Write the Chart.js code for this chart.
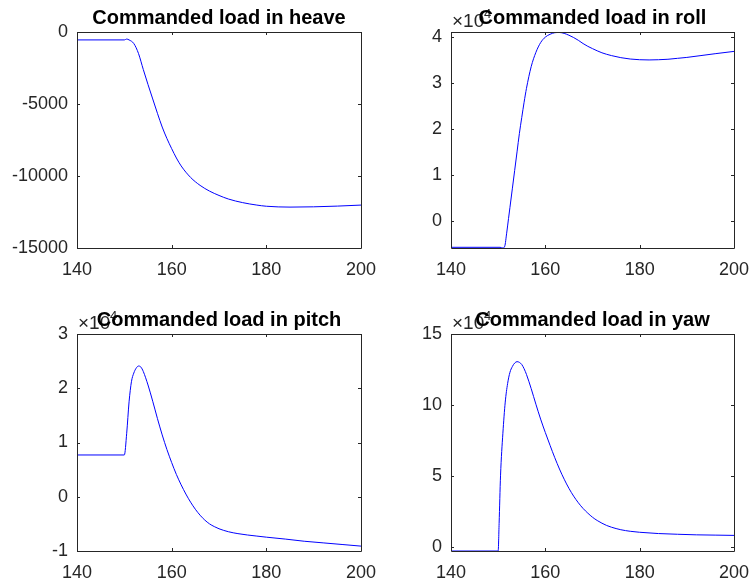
<!DOCTYPE html>
<html>
<head>
<meta charset="utf-8">
<script src="https://cdn.jsdelivr.net/npm/chart.js@4.4.1/dist/chart.umd.min.js"></script>
<style>
  body { margin: 0; background: #fff; }
  .wrap { position: relative; width: 750px; height: 583px; }
  .wrap canvas { position: absolute; left: 0; top: 0; }
</style>
</head>
<body>
<div class="wrap">
  <canvas id="heave" width="750" height="583"></canvas>
  <canvas id="roll" width="750" height="583"></canvas>
  <canvas id="pitch" width="750" height="583"></canvas>
  <canvas id="yaw" width="750" height="583"></canvas>
</div>
<script>
// Данные
const xTicks = [140, 160, 180, 200];

const heaveT = [140, 150, 150.5, 151, 152, 153, 154, 155, 156, 157, 158, 159, 160, 161, 162, 164, 166, 168, 170, 172, 175, 178, 180, 185, 190, 195, 200];
const heaveLoad = [-550, -550, -490, -550, -800, -1500, -2600, -3650, -4650, -5650, -6600, -7400, -8100, -8750, -9300, -10100, -10650, -11050, -11350, -11600, -11850, -12020, -12100, -12160, -12140, -12090, -12020];
const heaveTicks = [-15000, -10000, -5000, 0];

const rollT = [140, 150.4, 151, 151.4, 151.8, 152.2, 152.5, 153, 153.5, 154, 154.5, 155, 155.5, 156, 157, 158, 159, 160, 161, 162, 163, 164, 165, 166, 167, 168, 169, 170, 172, 174, 176, 178, 180, 182, 184, 186, 188, 190, 193, 196, 200];
const rollLoad = [-5600, -5600, -5750, -5350, -2550, 650, 3050, 7050, 11050, 15050, 19050, 22500, 25800, 28800, 33500, 36600, 38700, 39900, 40500, 40850, 40900, 40700, 40300, 39800, 39200, 38500, 37900, 37400, 36500, 35900, 35450, 35150, 35000, 34950, 35000, 35100, 35300, 35500, 35900, 36300, 36800];
const rollTicks = [0, 10000, 20000, 30000, 40000];

const pitchT = [140, 150, 150.5, 151, 151.5, 152, 152.5, 153, 153.5, 154, 155, 156, 157, 158, 159, 160, 161, 162, 163, 164, 165, 166, 167, 168, 169, 170, 172, 174, 176, 178, 180, 184, 188, 192, 196, 200];
const pitchLoad = [7700, 7700, 11700, 17500, 21200, 22800, 23700, 24100, 23900, 23100, 20600, 17600, 14400, 11400, 8700, 6300, 4100, 2200, 500, -1000, -2300, -3400, -4300, -5000, -5500, -5900, -6450, -6800, -7050, -7250, -7450, -7800, -8200, -8500, -8800, -9100];
const pitchTicks = [-10000, 0, 10000, 20000, 30000];

const yawT = [140, 150, 150.2, 150.5, 151, 151.5, 152, 152.5, 153, 153.5, 154, 154.5, 155, 155.5, 156, 157, 158, 159, 160, 161, 162, 163, 164, 165, 166, 167, 168, 169, 170, 171, 172, 173, 174, 176, 178, 180, 184, 188, 192, 196, 200];
const yawLoad = [-3000, -3000, 16400, 50000, 80000, 102000, 115000, 123000, 127000, 129500, 130500, 130000, 128500, 125500, 121500, 111500, 100500, 90000, 80500, 71500, 62800, 54800, 47600, 41200, 35700, 31000, 27000, 23700, 20800, 18500, 16600, 15000, 13800, 12000, 10900, 10200, 9300, 8800, 8400, 8200, 8000];
const yawTicks = [0, 50000, 100000, 150000];

const FONT = "'Liberation Sans', Arial, Helvetica, sans-serif";
const AXIS = "#262626";

// Рамка, засечки внутрь, заголовок и множитель
const matlabAxes = {
  id: "matlabAxes",
  afterDatasetsDraw(chart, args, opts) {
    const ctx = chart.ctx;
    const a = chart.chartArea;
    const xs = chart.scales.x;
    const ys = chart.scales.y;
    const tl = 3;
    ctx.save();
    ctx.strokeStyle = AXIS;
    ctx.lineWidth = 1;
    ctx.beginPath();
    ctx.rect(a.left + 0.5, a.top + 0.5, a.right - a.left, a.bottom - a.top);
    xTicks.forEach((v) => {
      const x = Math.round(xs.getPixelForValue(v)) + 0.5;
      ctx.moveTo(x, a.bottom);
      ctx.lineTo(x, a.bottom - tl);
      ctx.moveTo(x, a.top);
      ctx.lineTo(x, a.top + tl);
    });
    opts.yTicks.forEach((v) => {
      const y = Math.round(ys.getPixelForValue(v)) + 0.5;
      ctx.moveTo(a.left, y);
      ctx.lineTo(a.left + tl, y);
      ctx.moveTo(a.right, y);
      ctx.lineTo(a.right - tl, y);
    });
    ctx.stroke();
    ctx.restore();
  },
  afterDraw(chart, args, opts) {
    const ctx = chart.ctx;
    const a = chart.chartArea;
    ctx.save();
    if (opts.exp) {
      ctx.fillStyle = AXIS;
      ctx.textAlign = "left";
      ctx.textBaseline = "alphabetic";
      ctx.font = "19px " + FONT;
      ctx.fillText("\u00d710", a.left + 1, a.top - 5);
      ctx.font = "13px " + FONT;
      ctx.fillText(String(opts.exp), a.left + 33, a.top - 14);
    }
    ctx.fillStyle = "#000";
    ctx.textAlign = "center";
    ctx.font = "bold 20px " + FONT;
    ctx.fillText(opts.title, (a.left + a.right) / 2, a.top - 8);
    ctx.restore();
  },
};

function makeChart(id, box, title, t, load, yMin, yMax, yTicks, exp) {
  const div = exp ? Math.pow(10, exp) : 1;
  return new Chart(document.getElementById(id), {
    type: "line",
    data: {
      datasets: [
        {
          data: t.map((x, i) => ({ x: x, y: load[i] })),
          borderColor: "#0000ff",
          borderWidth: 1,
          pointRadius: 0,
          cubicInterpolationMode: "monotone",
        },
      ],
    },
    plugins: [matlabAxes],
    options: {
      responsive: false,
      animation: false,
      events: [],
      layout: {
        padding: {
          left: box.left - 75,
          top: box.top,
          right: 750 - box.right,
          bottom: 583 - box.bottom - 32,
        },
      },
      plugins: {
        legend: { display: false },
        tooltip: { enabled: false },
        matlabAxes: { title: title, yTicks: yTicks, exp: exp },
      },
      scales: {
        x: {
          type: "linear",
          min: 140,
          max: 200,
          grid: { display: false, drawTicks: false },
          border: { display: false },
          ticks: {
            autoSkip: false,
            maxRotation: 0,
            padding: 11,
            color: AXIS,
            font: { family: FONT, size: 18 },
            callback: (v) => String(v),
          },
          afterBuildTicks: (s) => {
            s.ticks = xTicks.map((v) => ({ value: v }));
          },
          afterFit: (s) => {
            s.height = 32;
            s.paddingLeft = 0;
            s.paddingRight = 0;
          },
        },
        y: {
          min: yMin,
          max: yMax,
          grid: { display: false, drawTicks: false },
          border: { display: false },
          ticks: {
            autoSkip: false,
            padding: 9,
            color: AXIS,
            font: { family: FONT, size: 18 },
            callback: (v) => String(v / div),
          },
          afterBuildTicks: (s) => {
            s.ticks = yTicks.map((v) => ({ value: v }));
          },
          afterFit: (s) => {
            s.width = 75;
            s.paddingTop = 0;
            s.paddingBottom = 0;
          },
        },
      },
    },
  });
}

makeChart("heave", { left: 77, top: 32, right: 361, bottom: 248 }, "Commanded load in heave", heaveT, heaveLoad, -15000, 0, heaveTicks, 0);
makeChart("roll", { left: 451, top: 32, right: 734, bottom: 248 }, "Commanded load in roll", rollT, rollLoad, -5750, 41000, rollTicks, 4);
makeChart("pitch", { left: 77, top: 334, right: 361, bottom: 551 }, "Commanded load in pitch", pitchT, pitchLoad, -10000, 30000, pitchTicks, 4);
makeChart("yaw", { left: 451, top: 334, right: 734, bottom: 551 }, "Commanded load in yaw", yawT, yawLoad, -3000, 150000, yawTicks, 4);
</script>
</body>
</html>
